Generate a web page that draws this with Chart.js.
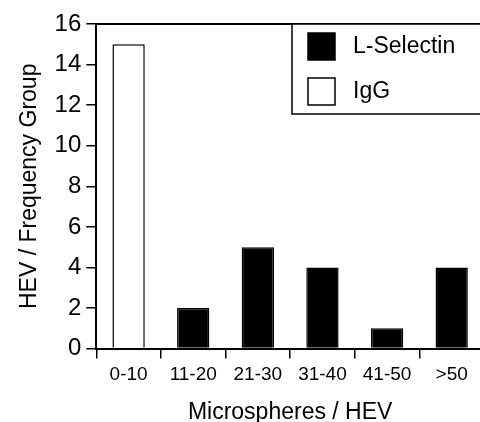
<!DOCTYPE html>
<html>
<head>
<meta charset="utf-8">
<script src="https://cdn.jsdelivr.net/npm/chart.js@4"></script>
<style>
  html, body { margin: 0; padding: 0; background: #fff; overflow: hidden; }
  #wrap { width: 484px; height: 422px; }
</style>
</head>
<body>
<div id="wrap"><canvas id="chart" width="484" height="422"></canvas></div>
<script>
const categories = ['0-10', '11-20', '21-30', '31-40', '41-50', '>50'];
const lSelectin = [null, 2, 5, 4, 1, 4];
const igg = [15, null, null, null, null, null];
const yTicks = [0, 2, 4, 6, 8, 10, 12, 14, 16];

const FONT = 'Liberation Sans, Arial, Helvetica, sans-serif';

// frame line on top + boxed legend inside the plot
const framePlugin = {
    id: 'frame',
    afterDraw(chart) {
        const { ctx, chartArea } = chart;
        ctx.save();
        ctx.strokeStyle = '#000';
        ctx.lineWidth = 2;
        ctx.beginPath();
        ctx.moveTo(chartArea.left, chartArea.top);
        ctx.lineTo(chart.width, chartArea.top);
        ctx.stroke();

        // legend box
        const bx = 292, by = chartArea.top, bw = 200, bh = 90;
        ctx.lineWidth = 1.5;
        ctx.fillStyle = '#fff';
        ctx.fillRect(bx, by, bw, bh);
        ctx.strokeRect(bx, by, bw, bh);
        ctx.font = '23px ' + FONT;
        ctx.textBaseline = 'middle';
        chart.data.datasets.forEach((ds, i) => {
            const y = by + 9 + i * 45;
            ctx.fillStyle = ds.backgroundColor;
            ctx.fillRect(308, y, 27, 27);
            ctx.strokeStyle = '#000';
            ctx.strokeRect(308, y, 27, 27);
            ctx.fillStyle = '#000';
            ctx.fillText(ds.label, 353, y + 14);
        });
        ctx.restore();
    }
};

new Chart(document.getElementById('chart'), {
    type: 'bar',
    data: {
        labels: categories,
        datasets: [
            { label: 'L-Selectin', data: lSelectin, backgroundColor: '#000', borderColor: '#000', borderWidth: 1.5 },
            { label: 'IgG', data: igg, backgroundColor: '#fff', borderColor: '#000', borderWidth: 1.5 }
        ]
    },
    options: {
        responsive: false,
        animation: false,
        layout: { padding: { top: 24, left: 16, right: 0, bottom: -4 } },
        barPercentage: 0.5,
        categoryPercentage: 1,
        plugins: { legend: { display: false }, tooltip: { enabled: false } },
        scales: {
            x: {
                stacked: true,
                offset: true,
                grid: { offset: true, drawOnChartArea: false, drawTicks: true, tickLength: 10, color: '#000', lineWidth: 1.5 },
                border: { display: true, color: '#000', width: 2 },
                ticks: { color: '#000', font: { family: FONT, size: 19 }, padding: 5, maxRotation: 0 },
                title: { display: true, text: 'Microspheres / HEV', color: '#000', font: { family: FONT, size: 23 }, padding: { top: 7, bottom: 0 } }
            },
            y: {
                min: 0,
                max: 16,
                afterBuildTicks(axis) { axis.ticks = yTicks.map(v => ({ value: v })); },
                grid: { drawOnChartArea: false, drawTicks: true, tickLength: 10, color: '#000', lineWidth: 1.5 },
                border: { display: true, color: '#000', width: 2 },
                ticks: { color: '#000', font: { family: FONT, size: 24 }, padding: 5 },
                title: { display: true, text: 'HEV / Frequency Group', color: '#000', font: { family: FONT, size: 23 }, padding: { top: 0, bottom: 6 } }
            }
        }
    },
    plugins: [framePlugin]
});
</script>
</body>
</html>
